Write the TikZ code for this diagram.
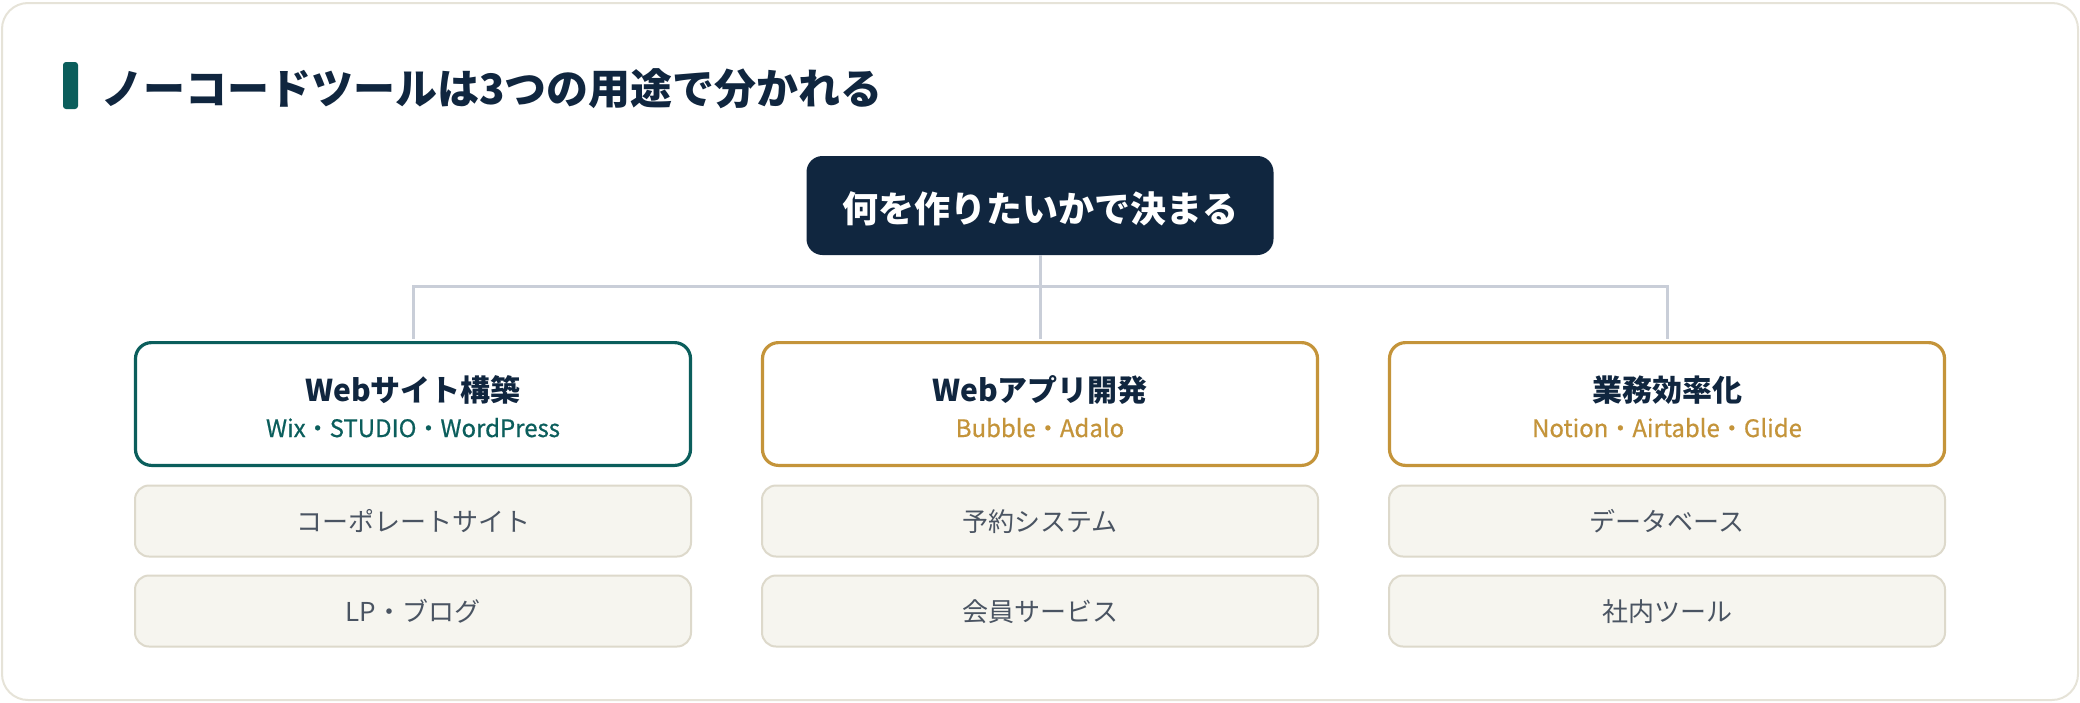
\documentclass[tikz,border=0pt]{standalone}
\usepackage{fontspec}
\usepackage{tikz}
\setmainfont{Noto Sans CJK JP}
\newfontfamily\jpmid{Noto Sans CJK JP}[FakeBold=0.6]
\definecolor{navy}{HTML}{10263F}
\definecolor{ncteal}{HTML}{0B5E5C}
\definecolor{ncgold}{HTML}{C4943A}
\definecolor{linkgray}{HTML}{C9CED8}
\definecolor{itemfill}{HTML}{F6F5EF}
\definecolor{itemline}{HTML}{DDD9CB}
\definecolor{itemtext}{HTML}{4A5462}
\definecolor{frameline}{HTML}{E6E3D8}

\begin{document}
\begin{tikzpicture}
	[x=0.5pt,y=-0.5pt,every node/.style={inner sep=0pt},
	catbox/.style={draw,fill=white,rounded corners=8pt,line width=1.6pt,minimum width=277.5pt,minimum height=61.4pt},
	itembox/.style={draw=itemline,fill=itemfill,rounded corners=7pt,line width=1pt,minimum width=278pt,minimum height=35.5pt,text=itemtext,font=\fontsize{13}{15}\selectfont,text height=11.5pt,text depth=0.7pt},
	cattitle/.style={anchor=base,text=navy,font=\bfseries\fontsize{15}{18}\selectfont},
	cattools/.style={anchor=base,font=\jpmid\fontsize{12}{14}\selectfont},
	link/.style={draw=linkgray,line width=1.5pt}]
	\useasboundingbox (0,0) rectangle (2080,702);
	\draw[draw=frameline,fill=white,line width=1pt,rounded corners=13pt] (2,3) rectangle (2078,700);
	\fill[ncteal,rounded corners=1.5pt] (63,62) rectangle (78,109);
	\node[anchor=base west,text=navy,font=\bfseries\fontsize{21}{25}\selectfont] (title) at (101,104) {ノーコードツールは3つの用途で分かれる};
	\node[fill=navy,rounded corners=8pt,minimum width=233.5pt,minimum height=49.5pt,text=white,font=\bfseries\fontsize{18}{22}\selectfont,text height=17.5pt,text depth=0.7pt] (top) at (1040,205.5) {何を作りたいかで決まる};
	\node[catbox,draw=ncteal] (web) at (413,404) {};
	\node[catbox,draw=ncgold] (app) at (1040,404) {};
	\node[catbox,draw=ncgold] (biz) at (1667,404) {};
	\node[cattitle] (webname) at (413,401) {Webサイト構築};
	\node[cattitle] (appname) at (1040,401) {Webアプリ開発};
	\node[cattitle] (bizname) at (1667,401) {業務効率化};
	\node[cattools,text=ncteal] (webtools) at (413,437) {Wix・STUDIO・WordPress};
	\node[cattools,text=ncgold] (apptools) at (1040,437) {Bubble・Adalo};
	\node[cattools,text=ncgold] (biztools) at (1667,437) {Notion・Airtable・Glide};
	\node[itembox] (web1) at (413,521) {コーポレートサイト};
	\node[itembox] (web2) at (413,611) {LP・ブログ};
	\node[itembox] (app1) at (1040,521) {予約システム};
	\node[itembox] (app2) at (1040,611) {会員サービス};
	\node[itembox] (biz1) at (1667,521) {データベース};
	\node[itembox] (biz2) at (1667,611) {社内ツール};
	\coordinate (bus) at (1040,286.5);
	
	\foreach \to in {web,app,biz}
	\draw[link,shorten >=0.8pt] (top.south) -- (top.south |- bus) -| (\to.north);
	\end{tikzpicture}
\end{document}
